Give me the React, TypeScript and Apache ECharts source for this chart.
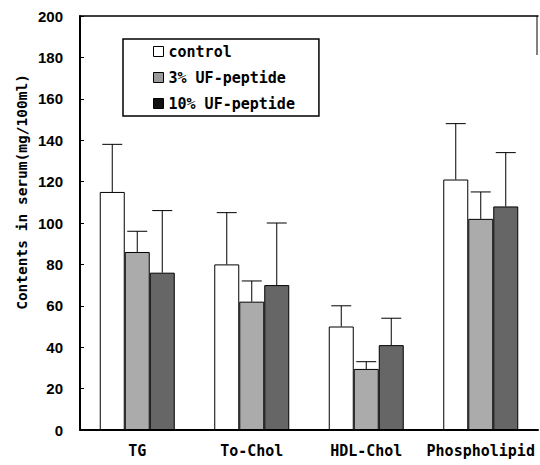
import React, { useEffect, useRef } from "react";
import * as echarts from "echarts";

const categories = ["TG", "To-Chol", "HDL-Chol", "Phospholipid"];
const seriesNames = ["control", "3% UF-peptide", "10% UF-peptide"];
const controlMean = [115, 80, 50, 121];
const controlTop = [138, 105, 60, 148];
const uf3Mean = [86, 62, 29.5, 102];
const uf3Top = [96, 72, 33, 115];
const uf10Mean = [76, 70, 41, 108];
const uf10Top = [106, 100, 54, 134];
const yTicks = { min: 0, max: 200, interval: 20 };

const means = [controlMean, uf3Mean, uf10Mean];
const tops = [controlTop, uf3Top, uf10Top];
const fills = ["#ffffff", "#ababab", "#666666"];
const legendFills = ["#ffffff", "#9a9a9a", "#111111"];

const BAR_W = 25;
const MONO = "'DejaVu Sans Mono', monospace";
const SANS = "'Liberation Sans', Arial, sans-serif";

export default function App() {
  const ref = useRef<HTMLDivElement>(null);
  useEffect(() => {
    if (!ref.current) return;
    const chart = echarts.init(ref.current, null, { renderer: "svg" });
    const errData: number[][] = [];
    for (let s = 0; s < 3; s++) {
      for (let c = 0; c < categories.length; c++) {
        errData.push([c, s, means[s][c], tops[s][c]]);
      }
    }
    const barSeries = seriesNames.map((name, s) => ({
      name,
      type: "bar",
      barWidth: BAR_W,
      barGap: "0%",
      data: means[s],
      itemStyle: { color: fills[s], borderColor: "#000", borderWidth: 1 },
      z: 2,
    }));
    chart.setOption({
      animation: false,
      backgroundColor: "#fff",
      grid: { left: 80, right: 2, top: 16, bottom: 35 },
      legend: {
        orient: "vertical",
        left: 123,
        top: 39,
        padding: [5, 24, 5, 30],
        itemGap: 11,
        itemWidth: 10,
        itemHeight: 10,
        borderColor: "#000",
        borderWidth: 1.5,
        backgroundColor: "#fff",
        icon: "rect",
        textStyle: { fontFamily: MONO, fontWeight: "bold", fontSize: 15, color: "#000" },
        data: seriesNames.map((n, i) => ({
          name: n,
          itemStyle: { color: legendFills[i], borderColor: "#000", borderWidth: 1 },
        })),
      },
      xAxis: [
        {
          type: "category",
          data: categories,
          axisLine: { lineStyle: { color: "#000", width: 2 } },
          axisTick: { inside: true, length: 4, lineStyle: { color: "#000" } },
          axisLabel: {
            interval: 0,
            margin: 13,
            fontFamily: MONO,
            fontWeight: "bold",
            fontSize: 15,
            color: "#000",
          },
        },
        {
          type: "category",
          position: "top",
          data: categories,
          axisLine: { show: true, lineStyle: { color: "#000", width: 1.5 } },
          axisTick: { show: false },
          axisLabel: { show: false },
        },
      ],
      yAxis: {
        type: "value",
        min: yTicks.min,
        max: yTicks.max,
        interval: yTicks.interval,
        axisLine: { show: true, lineStyle: { color: "#000", width: 2 } },
        axisTick: { show: true, inside: true, length: 4, lineStyle: { color: "#000" } },
        splitLine: { show: false },
        axisLabel: {
          margin: 17,
          fontFamily: SANS,
          fontWeight: "bold",
          fontSize: 15,
          color: "#000",
        },
      },
      graphic: [
        {
          type: "text",
          x: 22,
          y: 192,
          rotation: Math.PI / 2,
          style: {
            text: "Contents in serum(mg/100ml)",
            fontFamily: MONO,
            fontWeight: "bold",
            fontSize: 14.5,
            fill: "#000",
            align: "center",
            verticalAlign: "middle",
          },
        },
        {
          type: "line",
          shape: { x1: 537, y1: 16, x2: 537, y2: 55 },
          style: { stroke: "#000", lineWidth: 1 },
        },
      ],
      series: [
        ...barSeries,
        {
          type: "custom",
          name: "err",
          data: errData,
          encode: { x: 0, y: 3 },
          z: 3,
          silent: true,
          renderItem: (params: any, api: any) => {
            const c = api.value(0);
            const s = api.value(1);
            const base = api.coord([c, 0]);
            const x = base[0] + (s - 1) * BAR_W;
            const yMean = api.coord([c, api.value(2)])[1];
            const yTop = api.coord([c, api.value(3)])[1];
            const st = { stroke: "#000", lineWidth: 1 };
            return {
              type: "group",
              children: [
                { type: "line", shape: { x1: x, y1: yMean, x2: x, y2: yTop }, style: st },
                { type: "line", shape: { x1: x - 10, y1: yTop, x2: x + 10, y2: yTop }, style: st },
              ],
            };
          },
        },
      ],
    });
    return () => chart.dispose();
  }, []);
  return (
    <div
      ref={ref}
      style={{ width: 540, height: 465, position: "absolute", left: 0, top: 0 }}
    />
  );
}
